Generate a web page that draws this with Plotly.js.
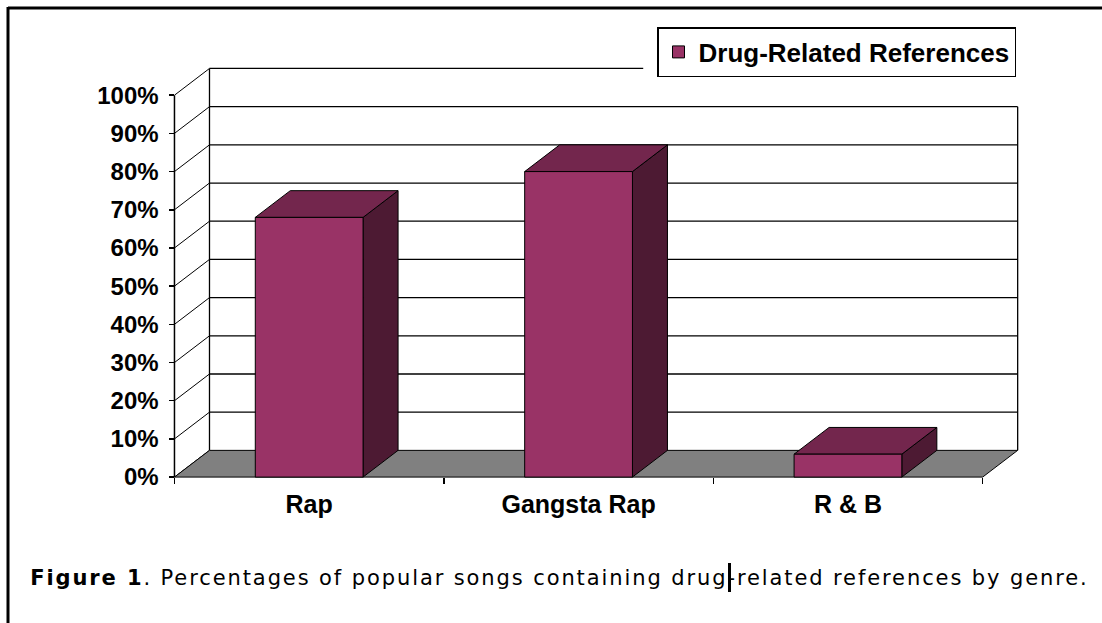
<!DOCTYPE html>
<html>
<head>
<meta charset="utf-8">
<script src="https://cdn.plot.ly/plotly-3.0.1.min.js"></script>
<style>
html,body{margin:0;padding:0;background:#fff;}
#chart{width:1102px;height:623px;}
#chart .annotation-text{letter-spacing:1.9px;}
</style>
</head>
<body>
<div id="chart"></div>
<script>
// ---- data ----
const categories = ['Rap', 'Gangsta Rap', 'R & B'];
const drugPct = [68, 80, 6];
const seriesName = 'Drug-Related References';
const yTicks = [0, 10, 20, 30, 40, 50, 60, 70, 80, 90, 100];
const yTickLabels = ['0%', '10%', '20%', '30%', '40%', '50%', '60%', '70%', '80%', '90%', '100%'];
const captionBold = 'Figure 1';
const captionRest = '. Percentages of popular songs containing drug-related references by genre.';

// ---- style ----
const DX = 0.13;       // depth offset in category units
const DY = 7;          // depth offset in % units
const BW = 0.4;        // bar width
const FRONT = '#993366', TOP = '#73264D', SIDE = '#4D1A33', FLOOR = '#808080';
const LW = 1.3;
const yMax = yTicks[yTicks.length - 1];
const xL = -0.5, xR = categories.length - 0.5;

const shapes = [];
const ln = (x0, y0, x1, y1, w) => ({type: 'line', xref: 'x', yref: 'y', x0, y0, x1, y1, layer: 'below', line: {color: '#000', width: w || LW}});

// left wall diagonals
yTicks.forEach(v => shapes.push(ln(xL, v, xL + DX, v + DY, 1)));
// back wall gridlines (top one partly hidden by the legend)
yTicks.forEach(v => {
  if (v === 0) return;
  const xEnd = v === yMax ? 1.24 : xR + DX;
  shapes.push(ln(xL + DX, v + DY, xEnd, v + DY));
});
// back wall edges
shapes.push(ln(xL + DX, DY, xL + DX, yMax + DY));
shapes.push(ln(xR + DX, DY, xR + DX, yTicks[yTicks.length - 2] + DY));
// floor
shapes.push({type: 'path', xref: 'x', yref: 'y', layer: 'below',
  path: `M${xL},0 L${xR},0 L${xR + DX},${DY} L${xL + DX},${DY} Z`,
  fillcolor: FLOOR, line: {color: '#000', width: 1}});
// bar top & side faces
drugPct.forEach((v, i) => {
  const a = i - BW / 2, b = i + BW / 2;
  shapes.push({type: 'path', xref: 'x', yref: 'y', layer: 'below',
    path: `M${b},0 L${b},${v} L${b + DX},${v + DY} L${b + DX},${DY} Z`,
    fillcolor: SIDE, line: {color: '#000', width: 1}});
  shapes.push({type: 'path', xref: 'x', yref: 'y', layer: 'below',
    path: `M${a},${v} L${a + DX},${v + DY} L${b + DX},${v + DY} L${b},${v} Z`,
    fillcolor: TOP, line: {color: '#000', width: 1}});
});
// front value axis line
shapes.push(ln(xL, 0, xL, yMax, 1.5));

// frame (paper coords)
const L = 161, R = 52, T = 57, B = 144, W = 1102, H = 623;
const pw = W - L - R, ph = H - T - B;
const px = x => (x - L) / pw;
const py = y => (H - B - y) / ph;
shapes.push({type: 'line', xref: 'paper', yref: 'paper', x0: px(8), y0: py(8), x1: px(1102), y1: py(8), line: {color: '#000', width: 3}});
shapes.push({type: 'line', xref: 'paper', yref: 'paper', x0: px(8), y0: py(7), x1: px(8), y1: py(623), line: {color: '#000', width: 3}});
// text cursor artifact in caption
shapes.push({type: 'rect', xref: 'paper', yref: 'paper', x0: px(728), y0: py(563), x1: px(731), y1: py(592), fillcolor: '#000', line: {width: 0}});

const trace = {
  type: 'bar', x: categories, y: drugPct, name: seriesName, width: BW,
  marker: {color: FRONT, line: {color: '#000', width: 1}},
  showlegend: true, hoverinfo: 'skip'
};

const layout = {
  width: W, height: H,
  margin: {l: L, r: R, t: T, b: B, pad: 0, autoexpand: false},
  paper_bgcolor: '#fff', plot_bgcolor: '#fff',
  font: {family: '"Liberation Sans", Arial, sans-serif', color: '#000'},
  showlegend: true,
  xaxis: {
    type: 'category', range: [-0.55, categories.length - 0.5 + 0.25],
    tickson: 'boundaries', ticks: 'outside', ticklen: 6, tickwidth: 1.5, tickcolor: '#000',
    showgrid: false, zeroline: false, showline: false, automargin: false, tickangle: 0,
    anchor: 'free', position: 0.5 / 110.5,
    tickfont: {size: 25, family: '"Liberation Sans", Arial, sans-serif', weight: 'bold'},
    ticklabelstandoff: 10
  },
  yaxis: {
    range: [-0.5, 110], tickvals: yTicks, ticktext: yTickLabels, tickmode: 'array',
    ticks: 'outside', ticklen: 5, tickwidth: 1.5, tickcolor: '#000',
    showgrid: false, zeroline: false, showline: false, automargin: false,
    anchor: 'free', position: 0.05 / 3.3,
    tickfont: {size: 24, family: '"Liberation Sans", Arial, sans-serif', weight: 'bold'},
    ticklabelstandoff: 6
  },
  legend: {
    x: px(1016), xanchor: 'right', y: py(27), yanchor: 'top',
    bgcolor: '#fff', bordercolor: '#000', borderwidth: 1.5,
    font: {size: 26, family: '"Liberation Sans", Arial, sans-serif', weight: 'bold'},
    itemwidth: 30
  },
  shapes: shapes,
  annotations: [{
    xref: 'paper', yref: 'paper', x: px(559), y: py(578), xanchor: 'center', yanchor: 'middle',
    text: '<b>' + captionBold + '</b>' + captionRest, showarrow: false,
    font: {family: '"DejaVu Sans", Verdana, sans-serif', size: 21, color: '#000'}
  }]
};

Plotly.newPlot('chart', [trace], layout, {staticPlot: true, displayModeBar: false});
</script>
</body>
</html>
